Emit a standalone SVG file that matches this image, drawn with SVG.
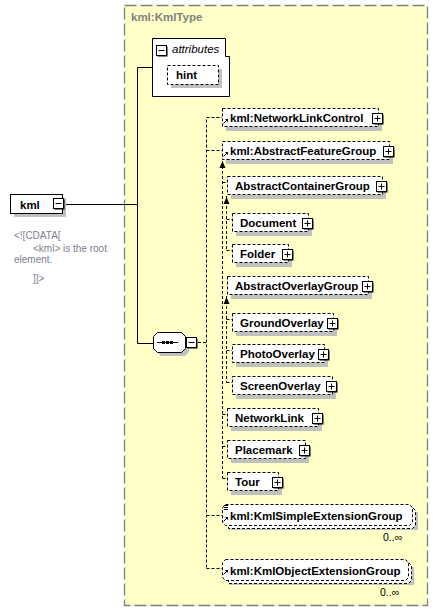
<svg xmlns="http://www.w3.org/2000/svg" xmlns:xlink="http://www.w3.org/1999/xlink" width="439" height="613" viewBox="0 0 439 613">
<style>
.bg{fill:#ffffc8;stroke:#808080;stroke-width:1.3;stroke-dasharray:12,4}
.el{fill:#fff;stroke:#000;stroke-width:1;stroke-dasharray:3,2}
.sh{fill:#c0c0c0}
.t{font-family:"Liberation Sans",Arial,sans-serif;font-weight:bold;font-size:11.5px;fill:#000}
.ty{font-family:"Liberation Sans",Arial,sans-serif;font-weight:bold;font-size:11.5px;fill:#808080}
.doc{font-family:"Liberation Sans",Arial,sans-serif;font-size:10px;fill:#808090}
.occ{font-family:"Liberation Sans",Arial,sans-serif;font-size:10.5px;fill:#000}
.c{fill:none;stroke:#000;stroke-width:1}
.cd{fill:none;stroke:#000;stroke-width:1;stroke-dasharray:3,2}
</style>
<defs>
<g id="plus">
<rect x="1.5" y="1.5" width="10" height="10" fill="#000"/>
<rect x="0.5" y="0.5" width="10" height="10" fill="#fff" stroke="#000"/>
<path d="M2.5 5.5H8.5M5.5 2.5V8.5" stroke="#000" fill="none"/>
</g>
<g id="minus">
<rect x="1.5" y="1.5" width="10" height="10" fill="#000"/>
<rect x="0.5" y="0.5" width="10" height="10" fill="#fff" stroke="#000"/>
<path d="M2.5 5.5H8.5" stroke="#000" fill="none"/>
</g>
<g id="ref">
<path d="M0.5 5.5L4 2" stroke="#000" fill="none"/>
<path d="M2 1H5V4Z" fill="#000"/>
</g>
</defs>

<rect class="bg" x="124.5" y="5.5" width="303" height="600"/>
<text class="ty" x="131" y="21">kml:KmlType</text>

<g id="connectors">
<path class="c" d="M65 204.5H137.5V67.5H152M137.5 204.5V343.5H153"/>
<path class="cd" d="M198 342.5H206.5M206.5 119.5V568.5M206.5 117.5H222M206.5 150.5H222M206.5 515.5H222M206.5 568.5H222"/>
<path class="cd" d="M222.5 161V478.5M222.5 182.5H227M222.5 414.5H227M222.5 446.5H227M222.5 478.5H227"/>
<path class="cd" d="M226.5 196V250.5M226.5 219.5H232M226.5 250.5H232"/>
<path class="cd" d="M226.5 296V382.5M226.5 319.5H232M226.5 350.5H232M226.5 382.5H232"/>
<path d="M219.5 168L222.5 161L225.5 168Z" fill="#000"/>
<path d="M223.5 204L226.5 197L229.5 204Z" fill="#000"/>
<path d="M223.5 304L226.5 297L229.5 304Z" fill="#000"/>
</g>

<g id="kml">
<rect class="sh" x="14" y="198" width="52" height="19"/>
<rect x="10.5" y="194.5" width="52" height="19" fill="#fff" stroke="#000"/>
<text class="t" x="20" y="209" font-size="12px">kml</text>
<use xlink:href="#minus" x="53" y="198"/>
</g>
<g id="kml-doc">
<text class="doc" x="14" y="239">&lt;![CDATA[</text>
<text class="doc" x="33" y="252">&lt;kml&gt; is the root</text>
<text class="doc" x="14" y="263">element.</text>
<text class="doc" x="33" y="282">]]&gt;</text>
</g>

<g id="attributes">
<path d="M152.5 38.5H225.5V56.5H229.5V96.5H152.5Z" fill="#fff" stroke="#000"/>
<use xlink:href="#minus" x="156" y="45"/>
<text x="172" y="53" font-family="Liberation Sans, Arial, sans-serif" font-style="italic" font-size="11.5px" fill="#000">attributes</text>
</g>
<g id="hint">
<rect class="sh" x="171" y="69" width="51" height="19"/>
<rect class="el" x="167.5" y="65.5" width="51" height="19"/>
<text class="t" x="176" y="79">hint</text>
</g>

<g id="sequence">
<path d="M161 336H185L189 340V352L185 356H161L157 352V340Z" class="sh"/>
<path d="M157.5 332.5H181.5L185.5 336.5V348.5L181.5 352.5H157.5L153.5 348.5V336.5Z" fill="#fff" stroke="#000"/>
<path d="M157 342.5H178" stroke="#000"/>
<rect x="162" y="341" width="3" height="3" fill="#000"/>
<rect x="166" y="341" width="3" height="3" fill="#000"/>
<rect x="170" y="341" width="3" height="3" fill="#000"/>
<use xlink:href="#minus" x="186" y="337"/>
</g>

<g id="NetworkLinkControl">
<rect class="sh" x="226" y="113" width="156" height="18"/>
<rect class="el" x="222.5" y="108.5" width="156" height="18"/>
<use xlink:href="#ref" x="223" y="118"/>
<text class="t" x="230" y="122">kml:NetworkLinkControl</text>
<use xlink:href="#plus" x="372" y="113"/>
</g>
<g id="AbstractFeatureGroup">
<rect class="sh" x="226" y="146" width="167" height="18"/>
<rect class="el" x="222.5" y="141.5" width="167" height="18"/>
<use xlink:href="#ref" x="223" y="151"/>
<text class="t" x="230" y="155">kml:AbstractFeatureGroup</text>
<use xlink:href="#plus" x="383" y="146"/>
</g>
<g id="AbstractContainerGroup">
<rect class="sh" x="231" y="181" width="155" height="18"/>
<rect class="el" x="227.5" y="176.5" width="155" height="18"/>
<text class="t" x="235" y="190">AbstractContainerGroup</text>
<use xlink:href="#plus" x="376" y="181"/>
</g>
<g id="Document">
<rect class="sh" x="236" y="218" width="76" height="18"/>
<rect class="el" x="232.5" y="213.5" width="76" height="18"/>
<text class="t" x="240" y="227">Document</text>
<use xlink:href="#plus" x="302" y="218"/>
</g>
<g id="Folder">
<rect class="sh" x="236" y="249" width="56" height="18"/>
<rect class="el" x="232.5" y="244.5" width="56" height="18"/>
<text class="t" x="240" y="258">Folder</text>
<use xlink:href="#plus" x="282" y="249"/>
</g>
<g id="AbstractOverlayGroup">
<rect class="sh" x="231" y="281" width="141" height="18"/>
<rect class="el" x="227.5" y="276.5" width="141" height="18"/>
<text class="t" x="235" y="290">AbstractOverlayGroup</text>
<use xlink:href="#plus" x="362" y="281"/>
</g>
<g id="GroundOverlay">
<rect class="sh" x="236" y="318" width="101" height="18"/>
<rect class="el" x="232.5" y="313.5" width="101" height="18"/>
<text class="t" x="240" y="327">GroundOverlay</text>
<use xlink:href="#plus" x="327" y="318"/>
</g>
<g id="PhotoOverlay">
<rect class="sh" x="236" y="349" width="92" height="18"/>
<rect class="el" x="232.5" y="344.5" width="92" height="18"/>
<text class="t" x="240" y="358">PhotoOverlay</text>
<use xlink:href="#plus" x="318" y="349"/>
</g>
<g id="ScreenOverlay">
<rect class="sh" x="236" y="381" width="100" height="18"/>
<rect class="el" x="232.5" y="376.5" width="100" height="18"/>
<text class="t" x="240" y="390">ScreenOverlay</text>
<use xlink:href="#plus" x="326" y="381"/>
</g>
<g id="NetworkLink">
<rect class="sh" x="231" y="413" width="91" height="18"/>
<rect class="el" x="227.5" y="408.5" width="91" height="18"/>
<text class="t" x="235" y="422">NetworkLink</text>
<use xlink:href="#plus" x="312" y="413"/>
</g>
<g id="Placemark">
<rect class="sh" x="231" y="445" width="78" height="18"/>
<rect class="el" x="227.5" y="440.5" width="78" height="18"/>
<text class="t" x="235" y="454">Placemark</text>
<use xlink:href="#plus" x="299" y="445"/>
</g>
<g id="Tour">
<rect class="sh" x="231" y="477" width="51" height="18"/>
<rect class="el" x="227.5" y="472.5" width="51" height="18"/>
<text class="t" x="235" y="486">Tour</text>
<use xlink:href="#plus" x="272" y="477"/>
</g>

<g id="KmlSimpleExtensionGroup">
<rect class="sh" x="229" y="512" width="189" height="18"/>
<path class="el" d="M228.5 507.5H412.5L415.5 510.5V525.5L412.5 528.5H228.5Z"/>
<path class="el" d="M225.5 504.5H409.5L412.5 507.5V522.5L409.5 525.5H225.5L222.5 522.5V507.5Z"/>
<path d="M224 505.5H228M224 507.5H228M224 509.5H228" stroke="#000"/>
<use xlink:href="#ref" x="223" y="516"/>
<text class="t" x="230" y="520">kml:KmlSimpleExtensionGroup</text>
<text class="occ" x="383" y="541">0..∞</text>
</g>
<g id="KmlObjectExtensionGroup">
<rect class="sh" x="229" y="567" width="185" height="18"/>
<path class="el" d="M228.5 562.5H408.5L411.5 565.5V580.5L408.5 583.5H228.5Z"/>
<path class="el" d="M225.5 559.5H405.5L408.5 562.5V577.5L405.5 580.5H225.5L222.5 577.5V562.5Z"/>
<use xlink:href="#ref" x="223" y="569"/>
<text class="t" x="230" y="575">kml:KmlObjectExtensionGroup</text>
<text class="occ" x="380" y="596">0..∞</text>
</g>
</svg>
